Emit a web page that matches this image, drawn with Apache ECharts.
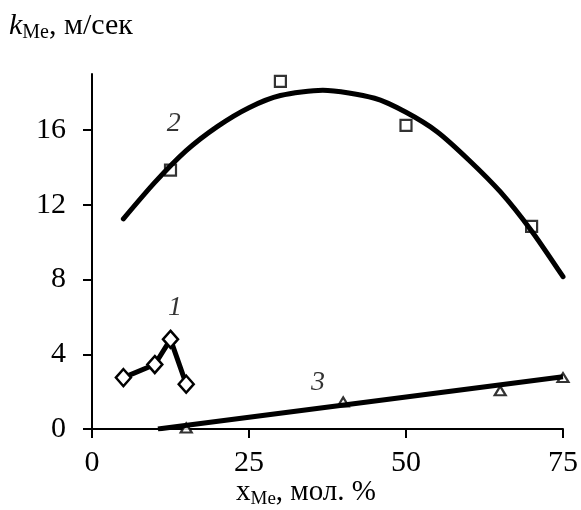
<!DOCTYPE html>
<html lang="ru">

<head>
    <meta charset="UTF-8">
    <title>k_Me</title>
    <script src="https://cdn.jsdelivr.net/npm/echarts@6/dist/echarts.min.js"></script>
</head>

<body style="margin:0">
    <div id="main" style="width: 581px;height:510px;"></div>
    <script type="text/javascript">
        // кривая 1 (ромбы)
        var x1 = [5, 10, 12.5, 15]
        var y1 = [2.75, 3.45, 4.8, 2.4]
        // точки 2 (квадраты)
        var x2 = [12.5, 30, 50, 70]
        var y2 = [13.85, 18.6, 16.25, 10.85]
        // линия тренда 2
        var x2fit = [5, 10, 15, 20, 25, 30, 36.75, 45, 50, 55, 60, 65, 70, 75]
        var y2fit = [11.25, 13.2, 14.9, 16.2, 17.2, 17.85, 18.13, 17.7, 16.95, 15.9, 14.4, 12.7, 10.6, 8.15]
        // точки 3 (треугольники)
        var x3 = [15, 40, 65, 75]
        var y3 = [0.05, 1.45, 2.05, 2.75]
        // линия тренда 3
        var x3fit = [10.5, 75]
        var y3fit = [0, 2.8]
        // подписи кривых
        var curveNames = ['1', '2', '3']
        var curveNameX = [13.2, 13.0, 36.0]
        var curveNameY = [6.5, 16.35, 2.5]
        var yTicks = [0, 4, 8, 12, 16]

        var pairs = (xs, ys) => xs.map((x, i) => [x, ys[i]])
        var serif = 'Liberation Serif'
        var hollow = { color: '#fff', borderColor: '#000', borderWidth: 2.2 }

        var myChart = echarts.init(document.getElementById('main'));

        var option = {
            animation: false,
            grid: { left: 92, right: 18, top: 74, bottom: 81 },
            xAxis: {
                type: 'value', min: 0, max: 75, interval: 25,
                splitLine: { show: false },
                axisLine: { lineStyle: { color: '#000', width: 2 } },
                axisTick: { inside: false, length: 9, lineStyle: { color: '#000', width: 2 } },
                axisLabel: { color: '#000', fontFamily: serif, fontSize: 30, margin: 19 }
            },
            yAxis: {
                type: 'value', min: 0, max: 19, interval: 4,
                splitLine: { show: false },
                axisLine: { show: true, lineStyle: { color: '#000', width: 2 } },
                axisTick: { show: true, length: 9, customValues: yTicks, lineStyle: { color: '#000', width: 2 } },
                axisLabel: { color: '#000', fontFamily: serif, fontSize: 30, margin: 26, customValues: yTicks }
            },
            graphic: [{
                type: 'text', left: 9, top: 11,
                style: {
                    text: '{k|k}{s|Me}{t|, м/сек}',
                    rich: {
                        k: { fontFamily: serif, fontStyle: 'italic', fontSize: 30, fill: '#000' },
                        s: { fontFamily: serif, fontSize: 20, fill: '#000', padding: [13, 0, 0, 0] },
                        t: { fontFamily: serif, fontSize: 30, fill: '#000' }
                    }
                }
            }, {
                type: 'text', left: 236, top: 478,
                style: {
                    text: '{x|x}{s|Me}{t|, мол. %}',
                    rich: {
                        x: { fontFamily: serif, fontSize: 29, fill: '#000' },
                        s: { fontFamily: serif, fontSize: 19, fill: '#000', padding: [14, 0, 0, 0] },
                        t: { fontFamily: serif, fontSize: 29, fill: '#000' }
                    }
                }
            }],
            series: [{
                type: 'scatter', data: pairs(x2, y2), symbol: 'rect', symbolSize: 11,
                itemStyle: hollow, z: 2
            }, {
                type: 'scatter', data: pairs(x3, y3), symbol: 'triangle', symbolSize: [11, 9],
                itemStyle: hollow, z: 2
            }, {
                type: 'line', data: pairs(x2fit, y2fit), smooth: 0.25, showSymbol: false,
                lineStyle: { color: '#000', width: 5, cap: 'round' }, z: 3
            }, {
                type: 'line', data: pairs(x3fit, y3fit), showSymbol: false,
                lineStyle: { color: '#000', width: 5 }, z: 3
            }, {
                type: 'line', data: pairs(x1, y1), symbol: 'diamond', symbolSize: [15, 17],
                showAllSymbol: true,
                lineStyle: { color: '#000', width: 5 },
                itemStyle: { color: '#fff', borderColor: '#000', borderWidth: 2.5 }, z: 4
            }, {
                type: 'scatter', symbolSize: 0, silent: true,
                data: curveNames.map((n, i) => ({ value: [curveNameX[i], curveNameY[i]], name: n })),
                label: {
                    show: true, position: 'inside', formatter: '{b}', color: '#000',
                    fontFamily: serif, fontStyle: 'italic', fontSize: 28
                }, z: 5
            }]
        };
        myChart.setOption(option);
    </script>
</body>

</html>
